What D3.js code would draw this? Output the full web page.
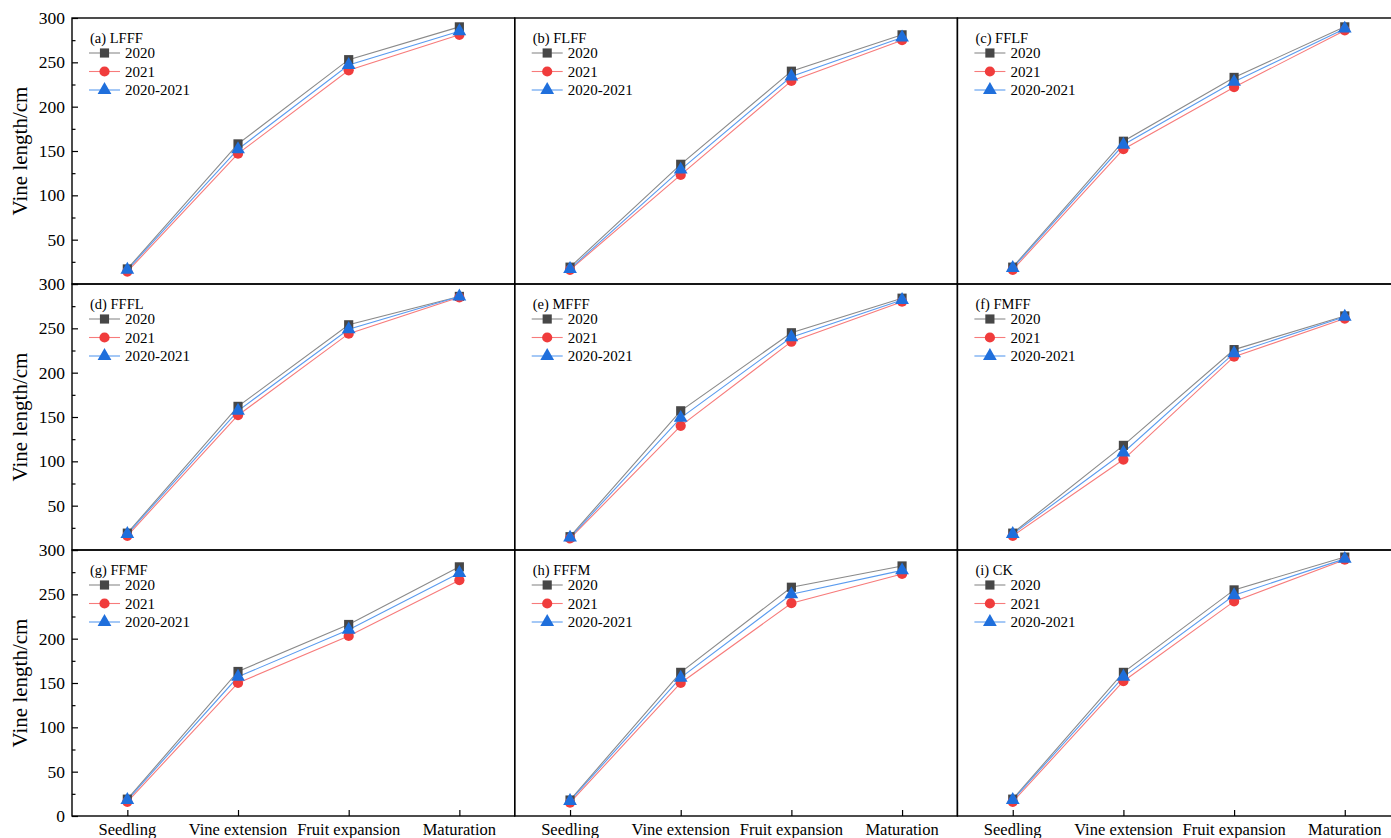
<!DOCTYPE html>
<html>
<head>
<meta charset="utf-8">
<script src="https://cdn.jsdelivr.net/npm/d3@7"></script>
<style>
  html, body { margin: 0; padding: 0; background: #fff; }
  svg { display: block; }
  svg text { font-family: "Times New Roman", "Liberation Serif", "DejaVu Serif", serif; fill: #000; }
</style>
</head>
<body>
<svg id="chart" width="1391" height="838"></svg>
<script>
// Growth stages on the x axis
const stages = ["Seedling", "Vine extension", "Fruit expansion", "Maturation"];
// Treatment panels, read left-to-right, top-to-bottom
const panels = ["(a) LFFF", "(b) FLFF", "(c) FFLF", "(d) FFFL", "(e) MFFF", "(f) FMFF", "(g) FFMF", "(h) FFFM", "(i) CK"];
const seriesNames = ["2020", "2021", "2020-2021"];

// Vine length (cm) per panel, one value per stage
const vine2020 = [
  [17, 158, 253, 290],
  [19, 135, 240, 281],
  [19, 161, 233, 290],
  [19, 162, 254, 286],
  [15, 157, 245, 284],
  [19, 118, 226, 264],
  [19, 163, 216, 281],
  [18, 162, 258, 282],
  [19, 162, 255, 292]
];
const vine2021 = [
  [14, 147, 241, 281],
  [16, 123, 229, 275],
  [16, 152, 222, 286],
  [16, 152, 244, 285],
  [13, 140, 235, 280],
  [16, 102, 218, 261],
  [16, 150, 203, 266],
  [15, 150, 240, 273],
  [16, 152, 242, 289]
];
const vineMean = [
  [16, 152, 247, 285],
  [17, 129, 234, 278],
  [18, 157, 228, 288],
  [18, 157, 249, 286],
  [14, 149, 240, 282],
  [18, 110, 222, 263],
  [18, 157, 210, 274],
  [17, 156, 250, 277],
  [18, 157, 249, 290]
];
const yTicks = [0, 50, 100, 150, 200, 250, 300];

const svg = d3.select("#chart");

const gridLeft = 72, gridTop = 18, panelW = 442.7, panelH = 266;
const x = d3.scalePoint().domain(stages).range([0, panelW]).padding(0.5);
const y = d3.scaleLinear().domain([0, 300]).range([panelH, 0]);

const styles = [
  { line: "#8a8a8a", fill: "#474747", shape: d3.symbolSquare, size: 84 },
  { line: "#f77b7b", fill: "#f03c3c", shape: d3.symbolCircle, size: 82 },
  { line: "#5a9bef", fill: "#1f6fdc", shape: d3.symbolTriangle, size: 82 }
];

panels.forEach((name, i) => {
  const col = i % 3, row = Math.floor(i / 3);
  const g = svg.append("g")
    .attr("transform", `translate(${gridLeft + col * panelW},${gridTop + row * panelH})`);

  const data = [vine2020[i], vine2021[i], vineMean[i]];
  const line = d3.line().x((d, k) => x(stages[k])).y(d => y(d));

  data.forEach((vals, s) => {
    g.append("path")
      .attr("d", line(vals))
      .attr("fill", "none")
      .attr("stroke", styles[s].line)
      .attr("stroke-width", 1.1);
  });
  data.forEach((vals, s) => {
    g.selectAll(null).data(vals).enter().append("path")
      .attr("transform", (d, k) => `translate(${x(stages[k])},${y(d)})`)
      .attr("d", d3.symbol().type(styles[s].shape).size(styles[s].size))
      .attr("fill", styles[s].fill);
  });

  // panel frame
  g.append("rect")
    .attr("width", panelW).attr("height", panelH)
    .attr("fill", "none").attr("stroke", "#000").attr("stroke-width", 1.4);

  // y axis on the first column, ticks pointing inward
  if (col === 0) {
    const yAxis = d3.axisRight(y).tickValues(yTicks).tickSize(6).tickFormat("");
    const ya = g.append("g").call(yAxis);
    ya.select(".domain").remove();
    ya.selectAll("line").attr("stroke", "#000").attr("stroke-width", 1.2);
    const yMinor = d3.axisRight(y).tickValues([25, 75, 125, 175, 225, 275]).tickSize(3.5).tickFormat("");
    const ym = g.append("g").call(yMinor);
    ym.select(".domain").remove();
    ym.selectAll("line").attr("stroke", "#000").attr("stroke-width", 1.2);

    const labelTicks = row === 2 ? yTicks : yTicks.slice(1);
    g.selectAll(".ylab").data(labelTicks).enter().append("text")
      .attr("x", -7).attr("y", d => y(d)).attr("dy", "0.35em")
      .attr("text-anchor", "end").attr("font-size", 17.5)
      .text(d => d);

    g.append("text")
      .attr("transform", `translate(${-45},${panelH / 2}) rotate(-90)`)
      .attr("text-anchor", "middle").attr("font-size", 21)
      .text("Vine length/cm");
  }

  // x axis on the bottom row, ticks pointing inward
  if (row === 2) {
    const xAxis = d3.axisTop(x).tickSize(6).tickFormat("");
    const xa = g.append("g").attr("transform", `translate(0,${panelH})`).call(xAxis);
    xa.select(".domain").remove();
    xa.selectAll("line").attr("stroke", "#000").attr("stroke-width", 1.2);
    g.selectAll(".xlab").data(stages).enter().append("text")
      .attr("x", d => x(d)).attr("y", panelH + 19)
      .attr("text-anchor", "middle").attr("font-size", 16.5)
      .text(d => d);
  }

  // panel title and legend
  g.append("text").attr("x", 18).attr("y", 25).attr("font-size", 14.5).text(name);
  seriesNames.forEach((s, k) => {
    const ly = 35 + k * 18.5;
    g.append("line").attr("x1", 17).attr("x2", 48).attr("y1", ly).attr("y2", ly)
      .attr("stroke", styles[k].line).attr("stroke-width", 1.1);
    g.append("path").attr("transform", `translate(32.5,${ly})`)
      .attr("d", d3.symbol().type(styles[k].shape).size(styles[k].size))
      .attr("fill", styles[k].fill);
    g.append("text").attr("x", 53).attr("y", ly).attr("dy", "0.35em")
      .attr("font-size", 15).text(s);
  });
});
</script>
</body>
</html>
